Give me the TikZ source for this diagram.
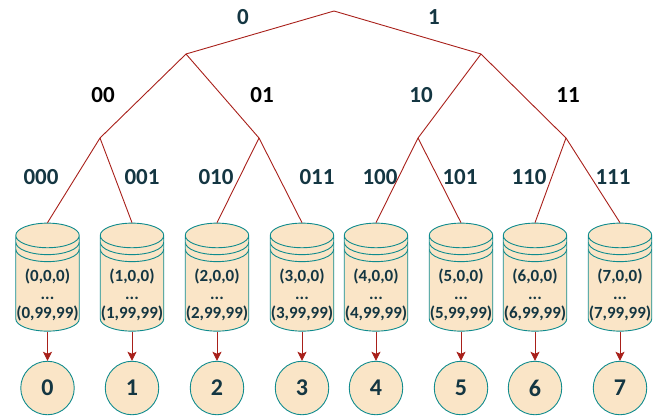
\documentclass[tikz,border=0pt]{standalone}
\usepackage{fontspec}
\setmainfont{Carlito}
\usetikzlibrary{arrows.meta,shapes.geometric}
\definecolor{tealline}{HTML}{0F8B8D}
\definecolor{sandfill}{HTML}{FAE5C7}
\definecolor{inkblue}{HTML}{143642}
\definecolor{brickred}{HTML}{A8201A}
\newcommand{\disklabel}[2]{\raisebox{-17pt}[0pt][0pt]{\begin{tabular}{@{}c@{}}#1\\...\\#2\end{tabular}}}
\begin{document}
\begin{tikzpicture}[x=1pt, y=-1pt,
  disk/.style={draw=tealline, fill=sandfill, line width=0.9pt, shape=cylinder, shape border rotate=90, aspect=0.394, minimum width=63.5pt, minimum height=108pt, inner sep=0pt, text=inkblue, font=\fontsize{17}{18.5}\selectfont\bfseries,
    path picture={
      \draw[tealline, line width=0.9pt] ([yshift=-19pt]path picture bounding box.north west) arc[start angle=180, end angle=360, x radius=31.75pt, y radius=12.5pt];
      \draw[tealline, line width=0.9pt] ([yshift=-26pt]path picture bounding box.north west) arc[start angle=180, end angle=360, x radius=31.75pt, y radius=12.5pt];
    }},
  shard/.style={draw=tealline, fill=sandfill, line width=0.9pt, circle, minimum size=53.5pt, inner sep=0pt, text=inkblue, font=\fontsize{24}{24}\selectfont\bfseries},
  fork/.style={inner sep=0pt, minimum size=0pt},
  bit/.style={inner sep=0pt, text=inkblue, font=\fontsize{23}{23}\selectfont\bfseries},
  blackbit/.style={bit, text=black},
  edge/.style={draw=brickred, line width=0.9pt},
  feed/.style={edge, -{Stealth[length=9pt, width=9pt, inset=2pt]}}]

\useasboundingbox (0,0) rectangle (656,416);

% Tree
\node[fork] (root) at (334,11) {};
\node[fork] (n0) at (186,54) {};
\node[fork] (n1) at (481,54) {};
\node[fork] (n00) at (100,138) {};
\node[fork] (n01) at (259,138) {};
\node[fork] (n10) at (418,138) {};
\node[fork] (n11) at (566,138) {};

% Disks
\node[disk] (d0) at (47.5,283.5) {\disklabel{(0,0,0)}{(0,99,99)}};
\node[disk] (d1) at (132,283.5) {\disklabel{(1,0,0)}{(1,99,99)}};
\node[disk] (d2) at (217,283.5) {\disklabel{(2,0,0)}{(2,99,99)}};
\node[disk] (d3) at (302,283.5) {\disklabel{(3,0,0)}{(3,99,99)}};
\node[disk] (d4) at (376,283.5) {\disklabel{(4,0,0)}{(4,99,99)}};
\node[disk] (d5) at (461,283.5) {\disklabel{(5,0,0)}{(5,99,99)}};
\node[disk] (d6) at (535,283.5) {\disklabel{(6,0,0)}{(6,99,99)}};
\node[disk] (d7) at (620,283.5) {\disklabel{(7,0,0)}{(7,99,99)}};

% Circles
\node[shard] (s0) at (47.5,388) {0};
\node[shard] (s1) at (132,388) {1};
\node[shard] (s2) at (217,388) {2};
\node[shard] (s3) at (302,388) {3};
\node[shard] (s4) at (376,388) {4};
\node[shard] (s5) at (461,388) {5};
\node[shard] (s6) at (535,388) {6};
\node[shard] (s7) at (620,388) {7};

% Labels
\node[bit] (l0) at (243,17) {0};
\node[bit] (l1) at (434,17) {1};
\node[blackbit] (l00) at (103,95) {00};
\node[blackbit] (l01) at (262,95) {01};
\node[bit] (l10) at (421,95) {10};
\node[blackbit] (l11) at (568,95) {11};
\node[bit] (l000) at (41,177) {000};
\node[bit] (l001) at (142,177) {001};
\node[bit] (l010) at (216,177) {010};
\node[bit] (l011) at (317,177) {011};
\node[bit] (l100) at (380,177) {100};
\node[bit] (l101) at (460,177) {101};
\node[bit] (l110) at (529,177) {110};
\node[bit] (l111) at (613,177) {111};

% Arrows
\draw[edge] (n0.center) -- (root.center);
\draw[edge] (root.center) -- (n1.center);
\draw[edge] (n00.center) -- (n0.center);
\draw[edge] (n0.center) -- (n01.center);
\draw[edge] (n10.center) -- (n1.center);
\draw[edge] (n1.center) -- (n11.center);
\draw[edge] (n00.center) -- (d0.north);
\draw[edge] (n00.center) -- (d1.north);
\draw[edge] (n01.center) -- (d2.north);
\draw[edge] (n01.center) -- (d3.north);
\draw[edge] (n10.center) -- (d4.north);
\draw[edge] (n10.center) -- (d5.north);
\draw[edge] (n11.center) -- (d6.north);
\draw[edge] (n11.center) -- (d7.north);
\draw[feed] (d0) -- (s0);
\draw[feed] (d1) -- (s1);
\draw[feed] (d2) -- (s2);
\draw[feed] (d3) -- (s3);
\draw[feed] (d4) -- (s4);
\draw[feed] (d5) -- (s5);
\draw[feed] (d6) -- (s6);
\draw[feed] (d7) -- (s7);

\end{tikzpicture}
\end{document}
